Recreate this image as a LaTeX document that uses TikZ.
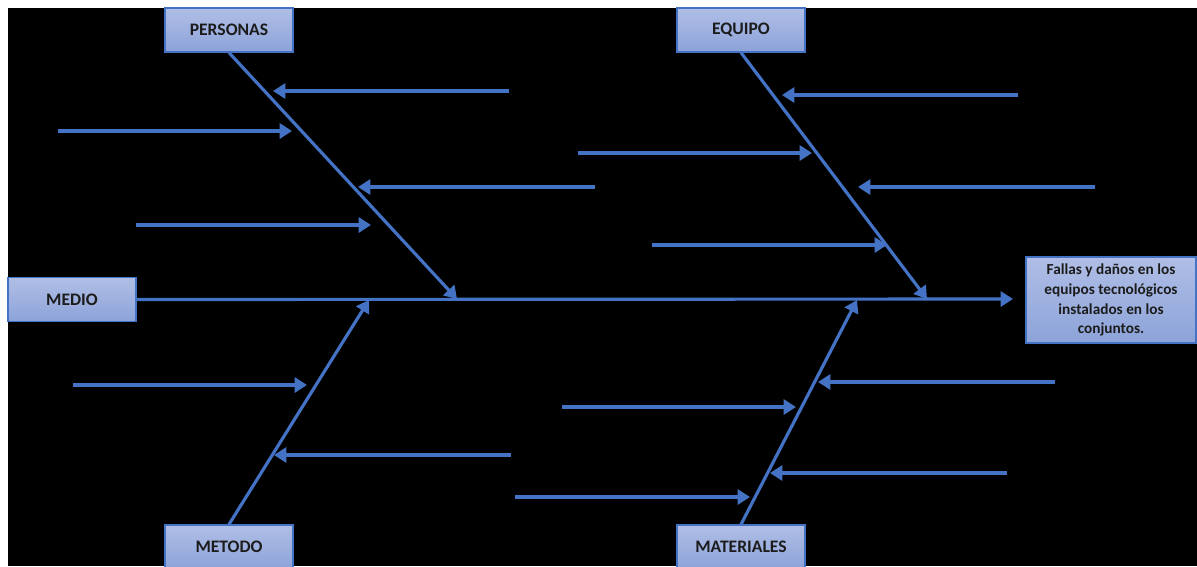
\documentclass[tikz,border=0pt]{standalone}
\usepackage{fontspec}
\setmainfont{Carlito}
\usetikzlibrary{arrows.meta}
\definecolor{bone}{RGB}{68,114,196}
\definecolor{boxtop}{RGB}{176,190,230}
\definecolor{boxbot}{RGB}{140,163,217}
\definecolor{ink}{RGB}{28,28,28}
\tikzset{
  x=0.02cm, y=-0.02cm,
  catbox/.style={draw=bone, line width=0.7pt, top color=boxtop, bottom color=boxbot,
    minimum width=2.56cm, minimum height=0.88cm, inner sep=0pt,
    text=ink, font=\bfseries\fontsize{10}{12}\selectfont},
  effectbox/.style={catbox, minimum width=3.4cm, minimum height=1.72cm,
    align=center, font=\bfseries\fontsize{8.7}{11.3}\selectfont},
  ray/.style={draw=bone, line width=1.8pt, -{Triangle[length=7pt,width=8.5pt]}},
}
\begin{document}
\begin{tikzpicture}
\useasboundingbox[fill=white] (0,0) rectangle (1197,566);
\fill[black] (8,8) rectangle (1197,566);

% category boxes and the effect
\node[catbox] (per) at (229,30) {PERSONAS};
\node[catbox] (equ) at (741,30) {EQUIPO};
\node[catbox] (med) at (72,299.5) {MEDIO};
\node[catbox] (met) at (229,547) {METODO};
\node[catbox] (mat) at (741,547) {MATERIALES};
\node[effectbox] (eff) at (1111,300) {Fallas y daños en los\\equipos tecnológicos\\instalados en los\\conjuntos.};

% spine
\coordinate (head) at (1013,299);
\draw[ray] (med.east) -- (head);

% main bones
\coordinate (perEnd) at (457,299);
\coordinate (equEnd) at (927,299);
\coordinate (metEnd) at (369,300);
\coordinate (matEnd) at (857,300);
\draw[ray] (per.south) -- (perEnd);
\draw[ray] (equ.south) -- (equEnd);
\draw[ray] (met.north) -- (metEnd);
\draw[ray] (mat.north) -- (matEnd);

% secondary causes: start x / y / tip x
\foreach \sx/\yy/\tx [count=\i] in {
  509/91/273, 58/131/292, 595/187/358, 136/225/371,
  1018/95/782, 578/153/812, 1095/187/858, 652/245/887,
  73/385/307, 511/455/274,
  1055/382/818, 562/407/796, 1007/473/770, 515/497/750}{
  \coordinate (c\i a) at (\sx,\yy);
  \coordinate (c\i b) at (\tx,\yy);
  \draw[ray] (c\i a) -- (c\i b);
}
\end{tikzpicture}
\end{document}
